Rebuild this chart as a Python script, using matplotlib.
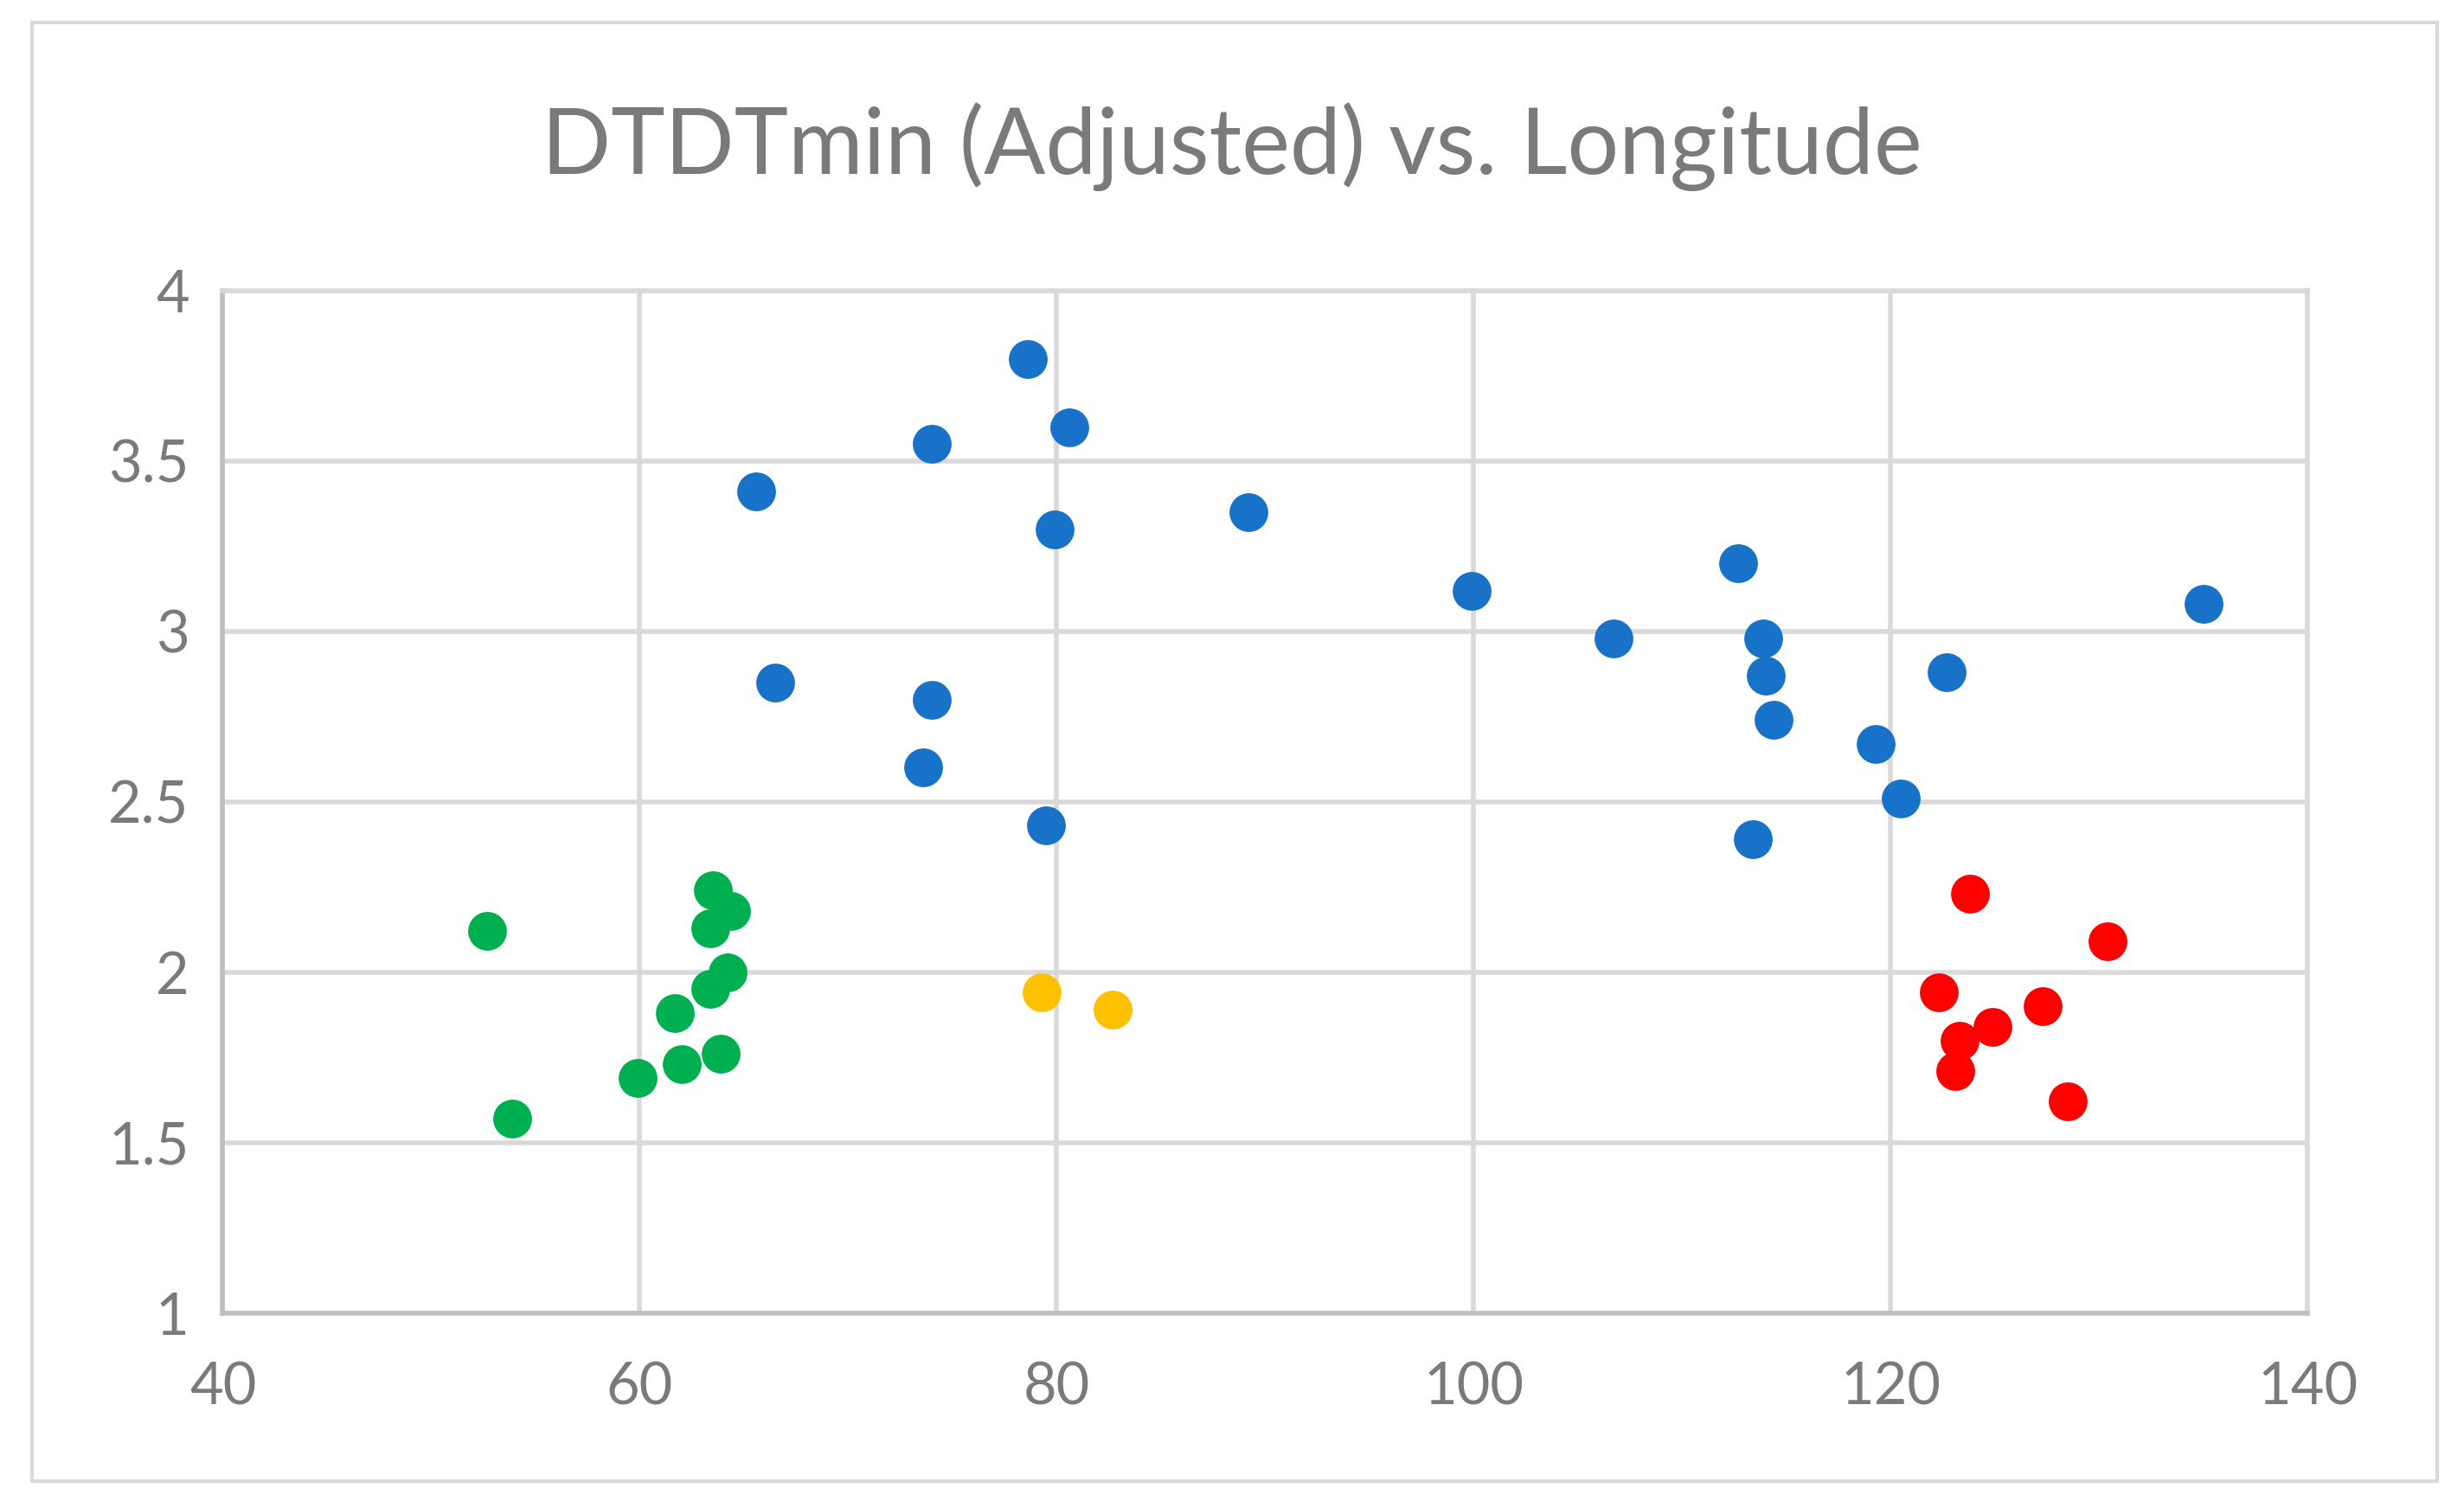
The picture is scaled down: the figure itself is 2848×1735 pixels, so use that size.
import matplotlib
matplotlib.use('agg')
import matplotlib.pyplot as plt
from matplotlib.patches import Rectangle

# data: longitude vs DTDTmin (adjusted)
green_lon = [52.7, 53.9, 59.9, 61.7, 62.0, 63.5, 64.4, 63.4, 64.2, 63.4, 63.9]
green_val = [2.12, 1.57, 1.69, 1.88, 1.73, 2.24, 2.18, 2.13, 2.00, 1.95, 1.76]

yellow_lon = [79.3, 82.7]
yellow_val = [1.94, 1.89]

blue_lon = [65.6, 66.5, 74.0, 74.0, 73.6, 78.6, 80.6, 79.9, 79.5, 89.2,
            99.9, 106.7, 112.7, 113.9, 114.0, 114.4, 113.4, 119.3, 120.5, 122.7, 135.0]
blue_val = [3.41, 2.85, 3.55, 2.80, 2.60, 3.80, 3.60, 3.30, 2.43, 3.35,
            3.12, 2.98, 3.20, 2.98, 2.87, 2.74, 2.39, 2.67, 2.51, 2.88, 3.08]

red_lon = [123.8, 130.4, 122.3, 127.3, 124.9, 123.3, 123.1, 128.5]
red_val = [2.23, 2.09, 1.94, 1.90, 1.84, 1.80, 1.71, 1.62]

xticks = [40, 60, 80, 100, 120, 140]
yticks = [1, 1.5, 2, 2.5, 3, 3.5, 4]
ytick_labels = ['1', '1.5', '2', '2.5', '3', '3.5', '4']

txt = '#7a7a7a'
plt.rcParams['font.family'] = ['Lato', 'DejaVu Sans']

fig = plt.figure(figsize=(14.24, 8.675), dpi=200)
# outer chart border
fig.patches.append(Rectangle((0.013, 0.013), 0.976, 0.972, transform=fig.transFigure,
                             fill=False, edgecolor='#d9d9d9', linewidth=1.5))

ax = fig.add_axes([0.0904, 0.1253, 0.8461, 0.681])
ax.set_xlim(40, 140)
ax.set_ylim(1, 4)
ax.set_xticks(xticks)
ax.set_yticks(yticks)
ax.set_yticklabels(ytick_labels)
ax.grid(True, color='#d9d9d9', linewidth=2)
ax.set_axisbelow(True)
ax.tick_params(length=0, labelsize=24, colors=txt)
ax.tick_params(axis='x', pad=20)
ax.tick_params(axis='y', pad=14)
for s in ['top', 'right']:
    ax.spines[s].set_color('#d9d9d9')
    ax.spines[s].set_linewidth(2)
for s in ['left', 'bottom']:
    ax.spines[s].set_color('#bfbfbf')
    ax.spines[s].set_linewidth(2)

ms = 260
ax.scatter(green_lon, green_val, s=ms, color='#00b050', linewidths=0, zorder=3)
ax.scatter(yellow_lon, yellow_val, s=ms, color='#ffc000', linewidths=0, zorder=3)
ax.scatter(blue_lon, blue_val, s=ms, color='#1872c8', linewidths=0, zorder=3)
ax.scatter(red_lon, red_val, s=ms, color='#ff0000', linewidths=0, zorder=3)

fig.text(0.5, 0.902, 'DTDTmin (Adjusted) vs. Longitude', ha='center', va='center',
         fontsize=38, color=txt)

plt.savefig('out.png', dpi=200)
